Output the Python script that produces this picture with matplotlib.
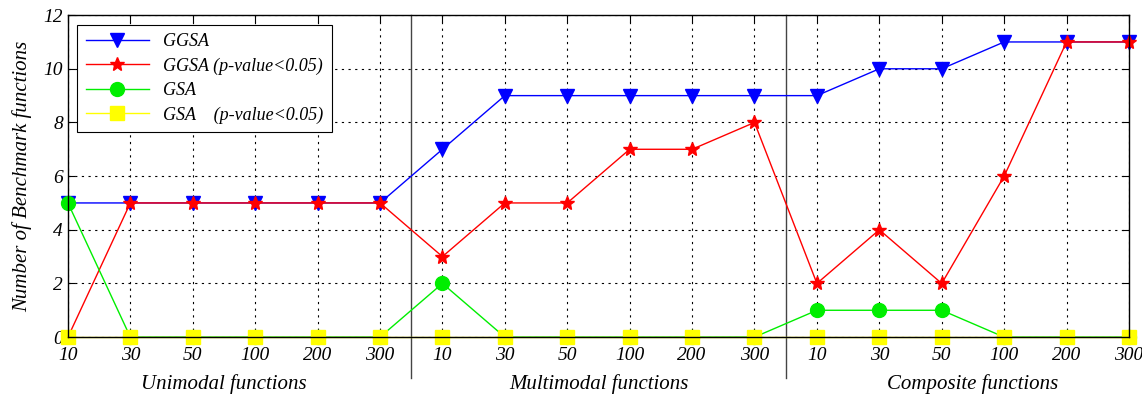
import numpy as np
import matplotlib.pyplot as plt

# problem dimensions per function group
tick_labels = ["10", "30", "50", "100", "200", "300"] * 3
groups = ["Unimodal functions", "Multimodal functions", "Composite functions"]

ggsa = [5, 5, 5, 5, 5, 5, 7, 9, 9, 9, 9, 9, 9, 10, 10, 11, 11, 11]
ggsa_p = [0, 5, 5, 5, 5, 5, 3, 5, 5, 7, 7, 8, 2, 4, 2, 6, 11, 11]
gsa = [5, 0, 0, 0, 0, 0, 2, 0, 0, 0, 0, 0, 1, 1, 1, 0, 0, 0]
gsa_p = [0] * 18

plt.rcParams['font.family'] = ['Liberation Serif', 'DejaVu Serif']
plt.rcParams['font.style'] = 'italic'

fig = plt.figure(figsize=(11.42, 3.98), dpi=100)
ax = fig.add_axes([0.0595, 0.153, 0.9291, 0.809])

x = np.arange(1, len(tick_labels) + 1)
ax.plot(x, ggsa, color='blue', lw=1, marker='v', ms=10, label='GGSA', clip_on=False)
ax.plot(x, ggsa_p, color='red', lw=1, marker='*', ms=10, label='GGSA (p-value<0.05)', clip_on=False)
ax.plot(x, gsa, color='#00ee00', lw=1, marker='o', ms=10, label='GSA', clip_on=False)
ax.plot(x, gsa_p, color='yellow', lw=1, marker='s', ms=10, label='GSA    (p-value<0.05)', clip_on=False)

ax.set_xlim(1, 18)
ax.set_ylim(0, 12)
ax.set_xticks(x)
ax.set_xticklabels(tick_labels)
ax.set_yticks(range(0, 13, 2))
ax.tick_params(direction='in', top=True, right=True, labelsize=14, length=5)
ax.tick_params(axis='x', pad=7)
ax.grid(True, color='black', linestyle=(0, (2, 4)), lw=0.8)
ax.set_ylabel("Number of Benchmark functions", fontsize=15, labelpad=8)
for s in ax.spines.values():
    s.set_linewidth(1)

# group separators reaching below the axis
for xs in [6.5, 12.5]:
    ax.plot([xs, xs], [-1.53, 12], color='#444444', lw=1, clip_on=False, zorder=1)
for i, g in enumerate(groups):
    ax.text(3.5 + 6 * i, -1.75, g, ha='center', va='center', fontsize=15,
            transform=ax.transData)

leg = ax.legend(loc='upper left', bbox_to_anchor=(0.009, 0.969), fontsize=13,
                fancybox=False, edgecolor='black', framealpha=1, handlelength=3.5,
                borderpad=0.45, labelspacing=0.4, borderaxespad=0)
leg.get_frame().set_linewidth(0.8)

plt.savefig("out.png")
